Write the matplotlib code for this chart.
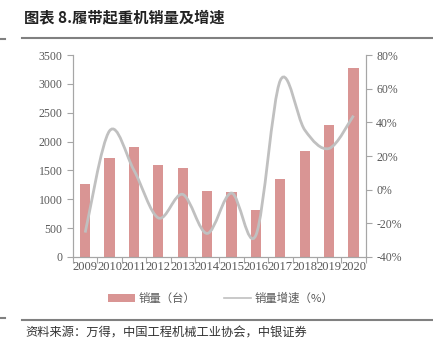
import numpy as np
import matplotlib.pyplot as plt
from matplotlib.path import Path
from matplotlib.patches import PathPatch, Patch
from matplotlib.lines import Line2D

plt.rcParams['font.family'] = ['Liberation Serif', 'Noto Sans CJK SC', 'DejaVu Sans']

years = ['2009', '2010', '2011', '2012', '2013', '2014',
         '2015', '2016', '2017', '2018', '2019', '2020']
sales = [1270, 1710, 1910, 1590, 1545, 1140, 1120, 820, 1350, 1830, 2280, 3280]
growth = [-25.5, 35.0, 11.5, -16.8, -2.8, -26.0, -2.0, -27.0, 65.0, 35.5, 24.5, 44.0]

bar_color = '#D99594'
line_color = '#C0C0C0'
tick_color = '#595959'
spine_color = '#A6A6A6'
cjk = ['Noto Sans CJK SC', 'DejaVu Sans']

fig = plt.figure(figsize=(4.33, 3.53), dpi=100)
ax = fig.add_axes([0.1686, 0.272, 0.676, 0.572])
ax2 = ax.twinx()

x = np.arange(len(years))
ax.bar(x, sales, width=0.42, color=bar_color, zorder=2)
ax.set_xlim(-0.5, len(years) - 0.5)
ax.set_ylim(0, 3500)
ax.set_yticks(np.arange(0, 3501, 500))

# category ticks between bars, labels centred under bars
ax.set_xticks(np.arange(-0.5, len(years), 1.0))
ax.set_xticklabels([])
ax.set_xticks(x, minor=True)
ax.set_xticklabels(years, minor=True)
ax.tick_params(axis='x', which='major', length=4, color=spine_color, direction='out')
ax.tick_params(axis='x', which='minor', length=0, labelsize=9, labelcolor=tick_color, pad=3)
ax.tick_params(axis='y', length=4, color=spine_color, labelsize=8.5, labelcolor=tick_color)

ax2.set_ylim(-40, 80)
ax2.set_yticks(np.arange(-40, 81, 20))
ax2.set_yticklabels([f'{v}%' for v in range(-40, 81, 20)])
ax2.tick_params(axis='y', length=4, color=spine_color, labelsize=8.5, labelcolor=tick_color)

for a in (ax, ax2):
    a.spines['top'].set_visible(False)
    for s in ('left', 'right', 'bottom'):
        a.spines[s].set_color(spine_color)

# smoothed growth line (cubic bezier through the yearly points)
pts = np.column_stack([x, growth]).astype(float)
verts = [pts[0]]
codes = [Path.MOVETO]
n = len(pts)
for i in range(n - 1):
    p0 = pts[i - 1] if i > 0 else pts[i]
    p1 = pts[i]
    p2 = pts[i + 1]
    p3 = pts[i + 2] if i + 2 < n else pts[i + 1]
    c1 = p1 + (p2 - p0) / 6.0
    c2 = p2 - (p3 - p1) / 6.0
    verts += [c1, c2, p2]
    codes += [Path.CURVE4] * 3
ax2.add_patch(PathPatch(Path(verts, codes), fill=False, edgecolor=line_color,
                        linewidth=2.0, zorder=3))

# title, rules and footer
fig.text(0.055, 0.952, '图表 8.履带起重机销量及增速', family=cjk, fontsize=11,
         fontweight='bold', va='center', ha='left', color='#222222')
fig.add_artist(Line2D([22 / 433, 1.0], [0.892, 0.892], color='#808080', linewidth=1.5))
fig.add_artist(Line2D([0, 5 / 433], [0.889, 0.889], color='#808080', linewidth=1.5))
fig.add_artist(Line2D([22 / 433, 1.0], [0.0935, 0.0935], color='#808080', linewidth=1.5))
fig.add_artist(Line2D([0, 5 / 433], [0.099, 0.099], color='#808080', linewidth=1.5))
fig.text(0.058, 0.057, '资料来源：万得，中国工程机械工业协会，中银证券', family=cjk,
         fontsize=8.8, va='center', ha='left', color='#333333', style='italic')

handles = [Patch(facecolor=bar_color, edgecolor='none'),
           Line2D([0], [0], color=line_color, linewidth=1.2)]
leg = fig.legend(handles, ['销量（台）', '销量增速（%）'], loc='center',
                 bbox_to_anchor=(0.51, 0.155), ncol=2, frameon=False,
                 prop={'family': cjk, 'size': 8.2}, handlelength=2.4,
                 handleheight=0.6, columnspacing=2.5, handletextpad=0.3)
for t in leg.get_texts():
    t.set_color(tick_color)

fig.savefig('out.png', dpi=100)
